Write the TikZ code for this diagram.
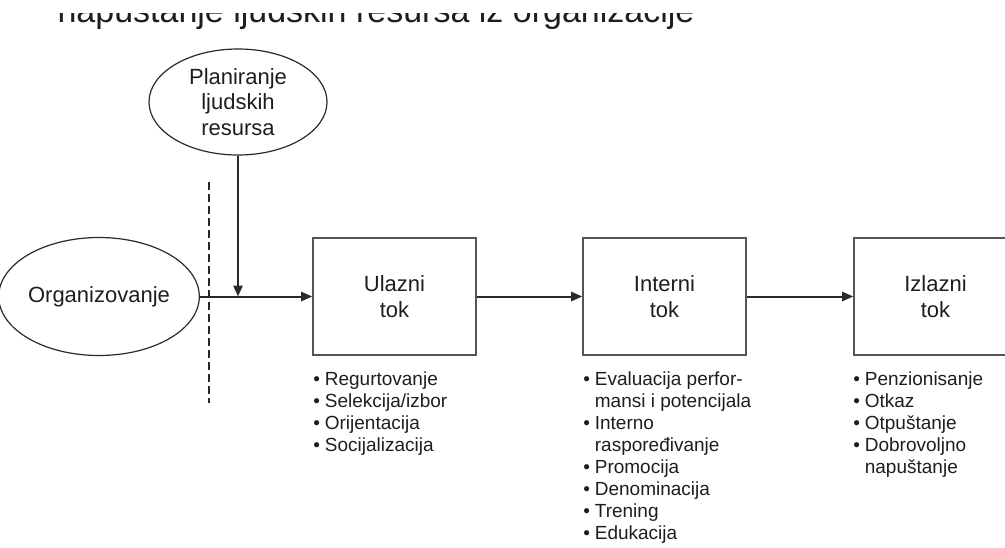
\documentclass[tikz,border=0pt]{standalone}
\usepackage{fontspec}
\setmainfont{Liberation Sans}
\usepackage{xcolor}
\usetikzlibrary{arrows.meta,positioning,shapes.geometric}
\definecolor{cInk}{HTML}{1E1E1E}
\definecolor{cLine}{HTML}{2A2A2A}
\definecolor{cFrame}{HTML}{555555}
\newcommand{\bigtxt}{\fontsize{11}{12.75}\selectfont}
\newcommand{\smalltxt}{\fontsize{9.5}{11}\selectfont}
\tikzset{
  oval/.style={ellipse,draw=cLine,line width=0.6pt,align=center,inner sep=0pt,font=\bigtxt,text=cInk},
  flowbox/.style={rectangle,draw=cFrame,line width=0.8pt,align=center,inner sep=0pt,minimum width=81.5pt,minimum height=58.5pt,font=\bigtxt,text=cInk},
  arr/.style={-{Triangle[length=5.5pt,width=4.6pt]},line width=1pt,color=cLine},
  blist/.style={anchor=north west,inner sep=0pt,font=\smalltxt,text=cInk},
}
\newcommand{\bitems}[1]{\begin{tabular}{@{}l@{\hspace{2.4pt}}l@{}}#1\end{tabular}}

\begin{document}
\begin{tikzpicture}[x=0.5pt,y=-0.5pt]
  \useasboundingbox (0,0) rectangle (1005,547);
  % title line, cut off by the top of the page
  \begin{scope}
    \clip (0,13) rectangle (1005,40);
    \node[font=\fontsize{17}{20}\selectfont,text=cInk,anchor=base,inner sep=0pt] (title) at (376,22) {napuštanje ljudskih resursa iz organizacije};
  \end{scope}
  % sources
  \node[oval,minimum width=89pt,minimum height=53pt] (plan) at (238,102) {Planiranje\\ljudskih\\resursa};
  \node[oval,minimum width=91pt,minimum height=59pt] (org) at (99,296.5) {Organizovanje};
  \draw[cLine,line width=1.3pt,dash pattern=on 4pt off 2pt] (209,182) -- (209,403);
  % flows
  \node[flowbox] (ulaz) at (394.5,296.5) {Ulazni\\tok};
  \node[flowbox] (intern) at (664.5,296.5) {Interni\\tok};
  \node[flowbox] (izlaz) at (935.5,296.5) {Izlazni\\tok};
  \coordinate (junc) at (238,296.5);
  \draw[arr] (plan) -- (junc);
  \draw[arr] (org) -- (ulaz);
  \draw[arr] (ulaz) -- (intern);
  \draw[arr] (intern) -- (izlaz);
  % activities
  \node[blist] (ulazlist) at (313,370) {\bitems{\textbullet & Regurtovanje\\ \textbullet & Selekcija/izbor\\ \textbullet & Orijentacija\\ \textbullet & Socijalizacija}};
  \node[blist] (internlist) at (583,370) {\bitems{\textbullet & Evaluacija perfor-\\ & mansi i potencijala\\ \textbullet & Interno\\ & raspoređivanje\\ \textbullet & Promocija\\ \textbullet & Denominacija\\ \textbullet & Trening\\ \textbullet & Edukacija}};
  \node[blist] (izlazlist) at (853,370) {\bitems{\textbullet & Penzionisanje\\ \textbullet & Otkaz\\ \textbullet & Otpuštanje\\ \textbullet & Dobrovoljno\\ & napuštanje}};
\end{tikzpicture}
\end{document}
